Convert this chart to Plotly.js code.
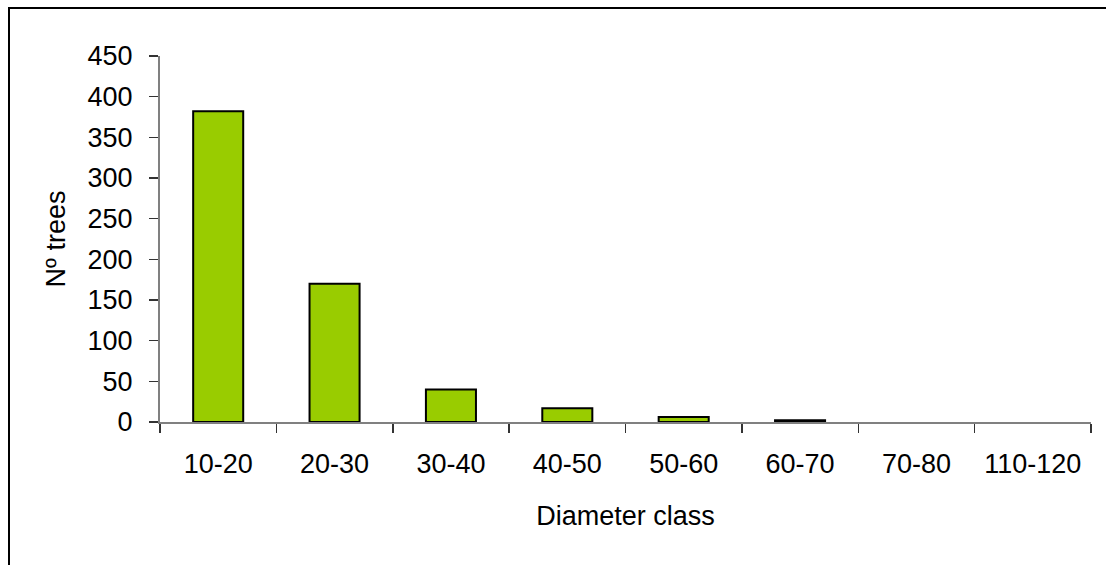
<!DOCTYPE html>
<html>
<head>
<meta charset="utf-8">
<script src="https://cdn.plot.ly/plotly-3.0.1.min.js"></script>
<style>
html,body{margin:0;padding:0;background:#fff;overflow:hidden;}
#chart{position:absolute;left:0;top:0;width:1106px;height:565px;}
#frame{position:absolute;left:8px;top:7px;width:2000px;height:2000px;border-left:2px solid #000;border-top:2px solid #000;pointer-events:none;}
</style>
</head>
<body>
<div id="chart"></div>
<div id="frame"></div>
<script>
const categories = ["10-20","20-30","30-40","40-50","50-60","60-70","70-80","110-120"];
const trees = [382, 170, 40, 17, 6, 2, 0, 0];
const yTicks = [0,50,100,150,200,250,300,350,400,450];

const font = {family: "Liberation Sans, Arial, sans-serif", size: 27, color: "#000"};

Plotly.newPlot("chart", [{
  type: "bar",
  x: categories,
  y: trees,
  marker: {color: "#99CC00", line: {color: "#000", width: trees.map(v => v > 0 ? 2 : 0)}},
  hoverinfo: "none"
}], {
  width: 1106, height: 565,
  margin: {l: 160, r: 15, t: 56, b: 143},
  paper_bgcolor: "rgba(0,0,0,0)",
  plot_bgcolor: "rgba(0,0,0,0)",
  bargap: 0.57,
  showlegend: false,
  font: font,
  xaxis: {
    type: "category",
    showline: true, linecolor: "#808080", linewidth: 2,
    ticks: "outside", tickson: "boundaries", ticklen: 9, tickcolor: "#333", tickwidth: 1.5,
    ticklabelstandoff: 17,
    showgrid: false, zeroline: false,
    tickfont: font,
    title: {text: "Diameter class", font: font, standoff: 28}
  },
  yaxis: {
    range: [0, 450],
    tickvals: yTicks,
    showline: true, linecolor: "#808080", linewidth: 2,
    ticks: "outside", ticklen: 9, tickcolor: "#333", tickwidth: 1.5,
    ticklabelstandoff: 11,
    showgrid: false, zeroline: false,
    tickfont: font,
    title: {text: "Nº trees", font: font, standoff: 14}
  }
}, {staticPlot: true});
</script>
</body>
</html>
